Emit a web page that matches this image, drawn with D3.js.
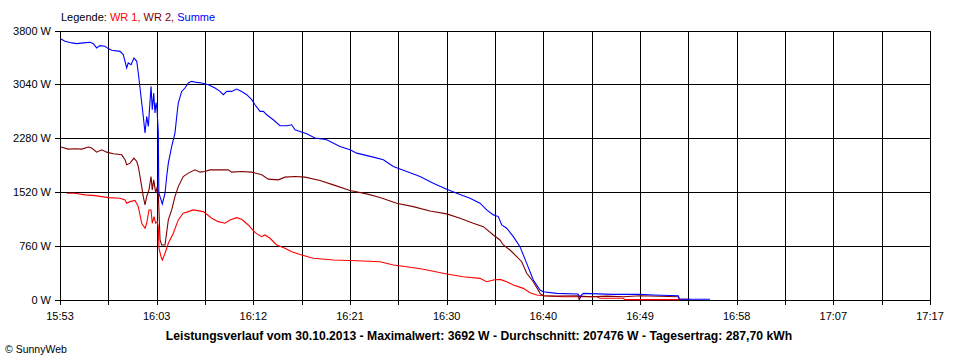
<!DOCTYPE html>
<html>
<head>
<meta charset="utf-8">
<script src="https://cdn.jsdelivr.net/npm/d3@7/dist/d3.min.js"></script>
<style>
  html, body { margin: 0; padding: 0; background: #fff; }
  svg { display: block; font-family: "Liberation Sans", Arial, sans-serif; }
</style>
</head>
<body>
<svg id="chart" width="960" height="360"></svg>
<script>
// ---- data (minutes after 15:53, watts) ----
const xTickLabels = ["15:53", "16:03", "16:12", "16:21", "16:30", "16:40", "16:49", "16:58", "17:07", "17:17"];
const yTickValues = [0, 760, 1520, 2280, 3040, 3800];
const seriesNames = ["WR 1", "WR 2", "Summe"];

const sumT = [0.1,0.48,1.13,1.61,2.25,2.90,3.22,3.54,3.86,4.34,4.66,4.99,5.79,6.11,6.44,6.59,6.86,7.14,7.41,7.56,7.89,8.04,8.21,8.37,8.53,8.79,8.91,9.05,9.17,9.27,9.37,9.49,9.54,9.88,10.14,10.30,10.46,10.78,11.10,11.27,11.42,11.75,12.07,12.39,12.72,13.20,13.68,14.32,14.97,15.45,15.77,16.10,16.58,17.06,17.54,18.03,18.51,18.83,19.31,19.63,19.96,20.59,21.24,21.89,22.37,22.69,23.17,23.82,24.62,25.75,27.03,28.0,28.65,30.25,31.22,32.18,33.48,34.76,36.04,37.34,38.30,39.59,40.55,41.20,41.84,42.32,42.65,43.13,43.77,44.41,45.06,45.70,46.35,46.66,47.96,50.01,50.2,50.53,53.42,56.0,57.28,59.70,59.80,62.76];
const sumW = [3680,3648,3625,3615,3625,3634,3615,3554,3587,3577,3545,3521,3506,3460,3272,3343,3318,3413,3365,3201,2782,2588,2354,2588,2447,3012,2683,2919,2636,2782,2683,2376,1510,1355,1506,1741,1930,2164,2354,2588,2777,2941,2989,3060,3083,3068,3060,3036,2989,2941,2895,2941,2941,2975,2941,2895,2824,2753,2659,2659,2612,2542,2457,2457,2471,2400,2376,2344,2283,2259,2164,2118,2071,2015,1977,1882,1811,1741,1647,1563,1506,1435,1365,1270,1200,1176,1058,1012,893,752,517,281,140,116,94,84,48,94,79,79,70,60,10,10];

const wr2T = [0.1,0.80,1.45,2.10,2.73,3.06,3.54,4.03,4.51,5.15,5.96,6.28,6.44,6.76,7.14,7.41,7.56,7.89,8.04,8.21,8.37,8.59,8.79,8.91,9.05,9.24,9.39,9.49,9.66,9.82,10.14,10.46,10.78,11.10,11.42,11.90,12.39,13.03,13.52,14.0,14.48,15.28,16.25,16.58,17.54,18.51,19.48,20.11,21.08,21.72,22.69,23.66,25.10,26.39,28.0,29.61,30.90,32.51,34.11,35.72,37.34,38.62,39.90,40.87,41.84,42.48,42.80,43.45,44.10,44.58,45.06,45.70,46.35,46.66,47.96,50.04,50.14,50.3,51.17,52.78,54.39,56.0,59.70,59.80,60.8];
const wr2W = [2156,2128,2132,2128,2156,2142,2085,2118,2085,2061,2047,1977,1906,1930,2001,1953,1882,1599,1458,1341,1458,1553,1741,1553,1694,1506,1599,1506,846,776,776,1129,1270,1458,1599,1741,1789,1835,1803,1811,1835,1835,1835,1803,1811,1803,1765,1704,1694,1732,1741,1732,1684,1623,1543,1496,1444,1365,1317,1256,1214,1153,1082,1034,917,846,776,705,611,540,376,257,94,60,55,60,0,55,45,55,45,60,45,10,10];

const wr1T = [0.65,1.45,2.41,3.38,4.03,4.66,5.79,6.28,6.44,6.76,7.24,7.56,7.89,8.21,8.37,8.59,8.79,8.91,9.08,9.24,9.39,9.49,9.56,9.75,9.88,10.14,10.46,10.94,11.42,11.90,12.39,12.87,13.84,14.65,15.28,15.93,16.41,17.06,17.54,18.18,18.83,19.47,19.79,20.28,20.92,21.72,22.37,23.34,24.46,26.39,28.65,30.90,32.18,33.48,35.08,37.34,38.94,40.55,41.20,41.84,42.48,43.13,43.77,44.73,45.38,46.03,46.66,48.60,51.82,52.14,54.39,54.55,59.89];
const wr1W = [1506,1506,1482,1472,1458,1444,1435,1411,1365,1387,1404,1317,1082,1012,1082,1270,1270,1082,1176,1082,1105,1034,729,611,564,659,800,941,1129,1224,1246,1270,1246,1153,1105,1082,1129,1161,1139,1058,950,893,917,870,776,729,681,635,588,564,554,540,493,469,433,366,328,305,257,281,291,257,211,164,102,70,60,46,46,24,24,5,5];

const titleText = "Leistungsverlauf vom 30.10.2013 - Maximalwert: 3692 W - Durchschnitt: 207476 W - Tagesertrag: 287,70 kWh";

// ---- drawing ----
const svg = d3.select("#chart");
const plotL = 60, plotR = 930, plotT = 30.5, plotB = 300;

const x = d3.scaleLinear().domain([0, 84]).range([plotL, plotR]);
const y = d3.scaleLinear().domain([0, 3800]).range([plotB, plotT]);

const gridTicks = d3.range(19).map(i => i * 84 / 18);

// vertical grid lines + ticks
svg.append("g").selectAll("line").data(gridTicks).join("line")
  .attr("x1", d => Math.round(x(d)) + 0.5).attr("x2", d => Math.round(x(d)) + 0.5)
  .attr("y1", plotT).attr("y2", plotB + 5)
  .attr("stroke", "#000").attr("stroke-width", 1).attr("shape-rendering", "crispEdges");

// horizontal grid lines
svg.append("g").selectAll("line").data(yTickValues).join("line")
  .attr("x1", plotL - 5).attr("x2", plotR + 0.5)
  .attr("y1", d => Math.round(y(d)) + 0.5).attr("y2", d => Math.round(y(d)) + 0.5)
  .attr("stroke", "#000").attr("stroke-width", 1).attr("shape-rendering", "crispEdges");

// y labels
svg.append("g").selectAll("text").data(yTickValues).join("text")
  .attr("x", 51).attr("y", d => y(d) + 4)
  .attr("text-anchor", "end").attr("font-size", 11).attr("fill", "#000")
  .text(d => d + " W");

// x labels
svg.append("g").selectAll("text").data(xTickLabels).join("text")
  .attr("x", (d, i) => x(gridTicks[i * 2]))
  .attr("y", 320)
  .attr("text-anchor", "middle").attr("font-size", 11).attr("fill", "#000")
  .text(d => d);

// lines
const line = d3.line().x(d => x(d[0])).y(d => y(d[1]));
const series = [
  { t: wr1T, w: wr1W, color: "#ff0000" },
  { t: wr2T, w: wr2W, color: "#800000" },
  { t: sumT, w: sumW, color: "#0000ff" }
];
series.forEach(s => {
  svg.append("path")
    .datum(s.t.map((t, i) => [t, s.w[i]]))
    .attr("d", line)
    .attr("fill", "none").attr("stroke", s.color).attr("stroke-width", 1.1)
    .attr("stroke-linejoin", "miter");
});

// legend
const leg = svg.append("text").attr("x", 61).attr("y", 21).attr("font-size", 11);
leg.append("tspan").attr("fill", "#000").text("Legende: ");
leg.append("tspan").attr("fill", "#ff0000").text(seriesNames[0] + ",");
leg.append("tspan").attr("fill", "#800000").text(" " + seriesNames[1] + ",");
leg.append("tspan").attr("fill", "#0000ff").text(" " + seriesNames[2]);

// title
svg.append("text").attr("x", 479).attr("y", 340)
  .attr("text-anchor", "middle").attr("font-size", 12.2).attr("font-weight", "bold")
  .attr("fill", "#000").text(titleText);

// copyright
svg.append("text").attr("x", 5).attr("y", 353)
  .attr("font-size", 10.5).attr("fill", "#000").text("\u00A9 SunnyWeb");
</script>
</body>
</html>
